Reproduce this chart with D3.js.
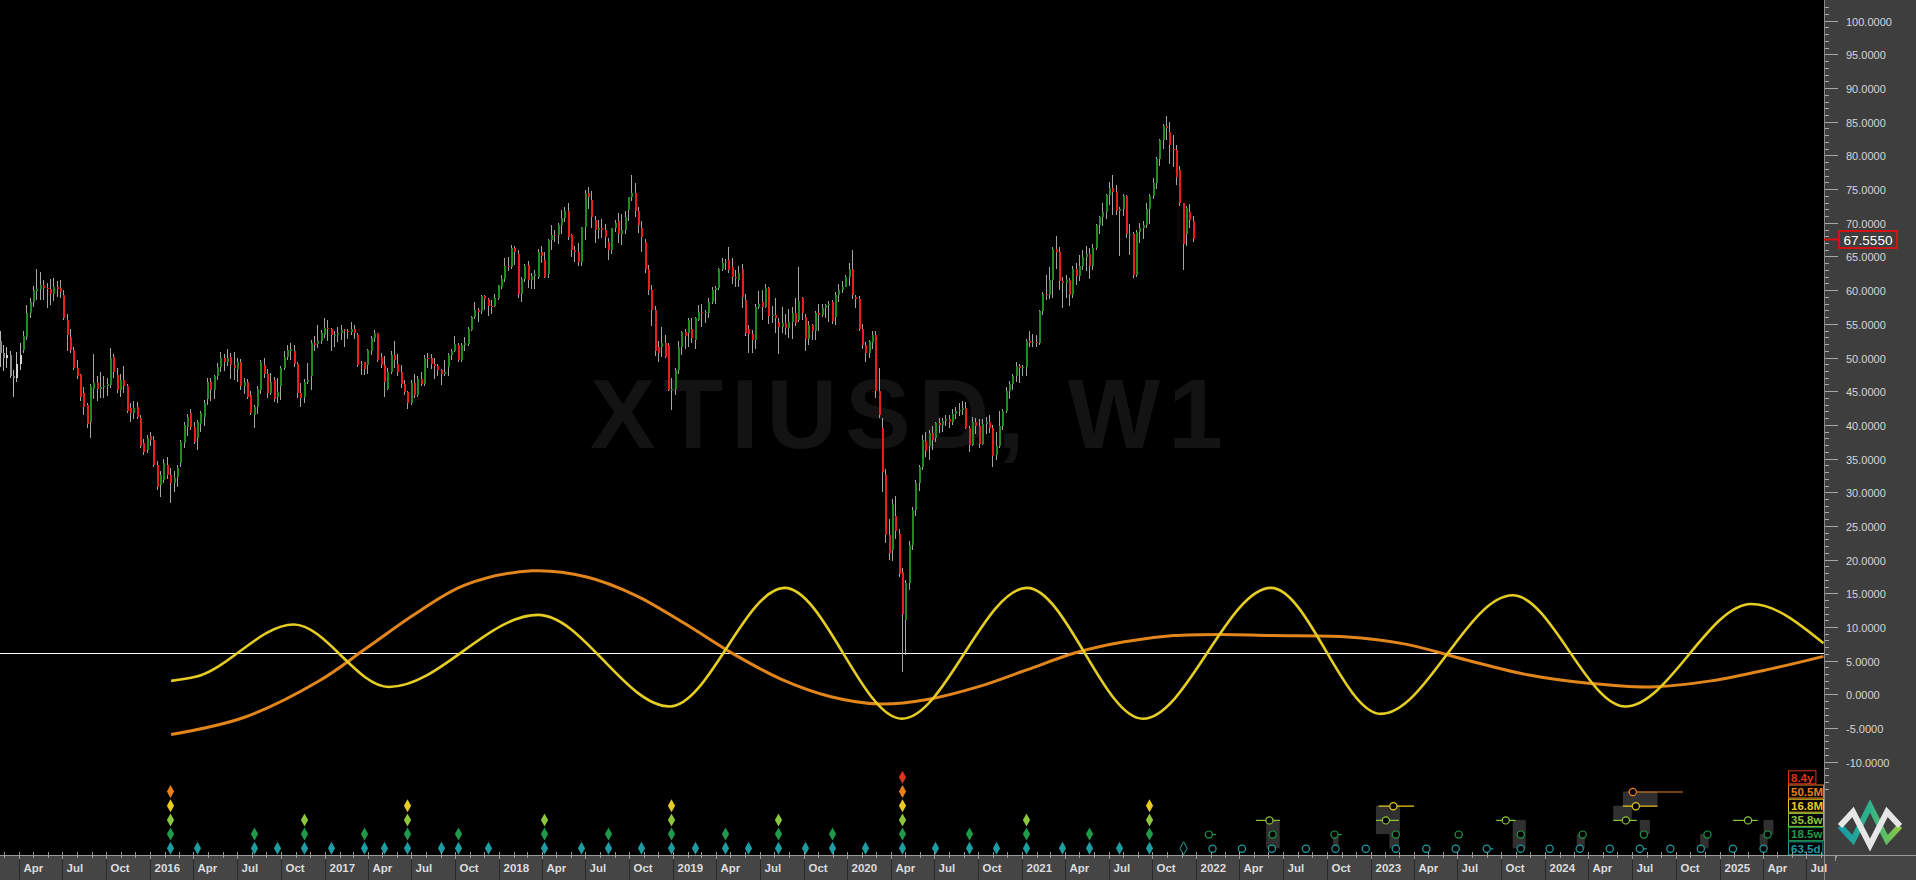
<!DOCTYPE html>
<html><head><meta charset="utf-8">
<script src="https://cdn.jsdelivr.net/npm/d3@7"></script>
<style>
html,body{margin:0;padding:0;background:#000;overflow:hidden}
svg{display:block}
</style></head><body>
<svg id="chart" width="1916" height="880"></svg>
<script>
// ---------------- DATA ----------------
const symbolTitle = "XTIUSD, W1";
const lastPrice = 67.555;
const refLevel = 6.08;
const greyBarCount = 7;

// weekly bars [open, high, low, close]; each block starts at the given Sunday
const start2015 = "2015-02-15";
const bars2015 = [
[52.5,53.9,48.6,50.6],[50.6,51.9,48.0,49.9],[49.9,51.6,48.5,50.4],[50.4,51.0,46.9,47.2],[47.2,48.2,44.2,46.9],
[46.9,50.8,46.3,49.1],[49.1,52.1,48.1,50.3],[51.1,53.9,50.6,53.2],[53.0,57.8,52.6,56.6],[56.6,58.8,55.8,58.3],
[58.3,60.6,57.5,60.0],[60.0,63.2,58.6,60.1],[60.1,62.7,58.5,60.7],[60.7,61.5,58.5,60.3],[60.3,61.1,57.3,60.1],
[60.1,61.6,57.8,59.4],[59.4,61.8,58.4,60.5],[60.5,61.4,59.0,60.2],[60.3,61.5,58.9,59.8],[59.3,60.0,55.5,55.8],
[55.6,56.4,51.0,53.3],[53.1,54.2,50.7,51.1],[51.1,51.6,48.2,48.4],[48.4,49.6,46.8,47.2],[47.4,47.6,43.6,44.2],
[44.7,45.6,41.5,42.7],[43.0,43.3,39.6,40.2],[40.5,46.0,38.0,45.7],[45.4,50.5,43.8,46.2],[46.2,47.2,43.5,45.3],
[45.3,47.9,44.0,45.6],[45.6,47.2,44.0,45.8],[45.7,47.0,44.3,46.1],[45.9,51.4,45.5,49.9],[50.1,50.5,47.0,47.9],
[47.4,48.5,44.8,45.2],[45.2,47.6,44.2,46.7],[46.7,48.8,44.8,45.7],[45.7,46.0,41.8,42.0],[42.5,43.2,40.5,41.7],
[41.7,43.5,40.9,42.5],[42.7,43.4,40.8,41.2],[41.0,41.5,36.5,36.8],[37.3,37.9,35.6,36.0],[36.3,38.5,35.9,38.0],
[38.3,38.9,36.8,37.8]
];
const start2016 = "2016-01-03";
const bars2016 = [
[37.8,38.3,33.8,34.1],[34.1,34.6,30.3,30.8],[31.1,33.2,29.3,32.6],[31.8,34.9,31.3,34.3],[34.0,35.3,31.9,32.6],
[32.6,33.6,28.4,31.3],[31.3,33.2,30.0,32.1],[32.3,34.0,30.8,33.6],[34.3,37.8,33.8,37.5],[37.3,40.4,36.5,40.0],
[39.7,41.6,38.4,41.2],[41.7,42.4,39.2,39.7],[39.7,40.4,37.1,37.5],[38.0,40.7,36.3,40.5],[40.2,42.0,39.0,41.7],
[41.2,43.7,39.8,43.3],[43.8,47.0,43.0,46.3],[46.3,47.0,43.6,45.2],[45.2,47.4,43.9,47.2],[47.2,49.2,46.6,48.6],
[48.6,50.8,47.9,49.9],[49.9,50.5,48.0,49.4],[49.4,51.3,48.8,49.9],[50.1,50.6,46.8,48.9],[48.9,50.8,46.6,48.4],
[48.3,50.0,46.3,49.4],[49.4,49.8,45.2,45.7],[45.7,46.9,44.6,46.4],[46.4,46.8,43.9,44.2],[44.5,45.0,41.4,41.7],
[41.5,42.9,39.6,42.7],[42.7,45.8,41.6,45.4],[45.2,49.7,44.6,49.4],[48.9,49.9,47.0,47.6],[47.6,48.3,44.0,44.7],
[44.7,47.7,44.4,46.4],[46.7,47.1,43.4,43.9],[44.2,46.9,43.2,44.9],[45.7,48.8,43.7,48.4],[48.4,50.9,48.2,50.1],
[50.1,51.9,49.6,51.1],[51.1,52.1,49.6,51.2],[50.9,51.8,48.6,49.1],[49.1,49.3,44.0,44.7],[44.7,46.2,42.7,44.0],
[44.2,46.8,43.3,46.4],[46.4,49.2,46.0,46.6],[47.2,52.6,45.2,52.1],[52.1,53.2,50.9,52.0],[52.0,54.8,51.4,52.5],
[52.5,54.1,52.0,53.6],[53.3,55.8,52.9,54.4]
];
const start2017 = "2017-01-01";
const bars2017 = [
[54.4,55.6,52.4,54.2],[54.2,54.4,51.0,53.3],[53.3,53.9,51.5,53.4],[53.4,54.6,52.3,53.6],[53.6,54.8,52.6,54.1],
[54.1,54.3,51.5,53.9],[53.9,54.3,52.8,53.8],[53.8,55.3,53.3,54.3],[54.3,54.9,52.8,53.6],[53.3,53.7,48.6,48.9],
[48.9,49.5,47.4,49.1],[49.3,49.4,47.4,48.3],[48.9,51.2,47.5,51.1],[51.0,53.2,50.3,52.9],[52.9,54.1,52.3,53.6],
[53.6,53.7,49.4,49.6],[50.1,50.6,48.5,48.9],[48.9,50.2,44.2,46.4],[45.4,48.5,45.2,47.9],[47.9,51.0,47.6,50.4],
[50.4,52.4,48.4,49.6],[49.1,50.5,47.2,47.9],[47.9,48.9,45.5,46.0],[46.0,46.7,44.5,44.9],[44.9,45.1,42.4,43.2],
[43.2,46.6,43.0,46.2],[46.2,47.6,44.0,44.4],[44.4,47.2,44.1,46.8],[46.8,47.8,45.7,46.1],[46.1,50.3,45.7,50.0],
[50.0,50.7,48.4,49.9],[49.9,50.5,48.3,49.1],[49.1,49.9,46.8,48.8],[48.8,49.1,47.3,48.2],[48.2,48.3,45.9,47.6],
[47.6,49.7,47.3,47.8],[48.6,50.7,47.3,50.4],[50.4,51.3,49.7,51.0],[51.0,53.2,50.8,52.0],[51.8,52.1,49.4,49.6],
[49.6,52.1,49.4,51.8],[51.8,53.1,51.0,52.1],[52.0,54.5,51.7,54.3],[54.1,56.1,53.9,56.0],[56.0,58.2,55.7,57.0],
[57.0,57.3,55.2,56.9],[56.9,59.3,56.4,59.2],[59.2,59.3,57.0,58.7],[58.7,58.8,56.1,57.7],[57.7,58.5,56.4,57.6],
[57.6,59.4,57.5,58.8],[58.8,60.8,58.6,60.7]
];
const start2018 = "2017-12-31";
const bars2018 = [
[60.5,62.2,60.1,61.7],[61.7,64.8,61.2,63.6],[63.6,64.9,62.8,63.4],[63.4,66.7,63.1,66.3],[66.3,66.6,63.8,65.6],
[65.4,66.0,58.9,59.4],[59.4,61.9,58.2,61.6],[61.6,63.9,61.2,63.6],[63.7,64.3,60.3,61.5],[61.5,62.6,60.2,62.1],
[62.1,63.0,60.1,62.4],[62.0,66.1,61.7,65.7],[65.7,66.6,64.0,65.0],[64.5,65.7,61.8,62.0],[62.4,67.6,61.8,67.4],
[67.4,69.6,66.0,68.2],[68.2,69.0,67.2,68.0],[68.2,70.0,66.9,69.7],[69.7,71.9,68.4,70.7],[70.7,72.3,70.1,71.7],
[71.7,72.9,67.5,67.9],[68.2,68.4,64.9,66.0],[66.0,66.5,64.2,65.7],[65.7,67.0,63.6,64.2],[64.2,69.3,63.6,69.4],
[69.4,74.8,67.5,74.4],[74.4,75.3,72.0,73.9],[73.4,74.7,69.2,70.9],[70.4,71.0,67.0,68.9],[68.9,70.4,67.6,69.2],
[69.2,70.5,67.8,68.9],[68.9,69.8,66.2,67.9],[67.2,67.8,64.5,66.0],[66.0,69.2,65.4,69.2],[69.2,70.4,68.6,70.0],
[70.3,71.4,67.0,68.3],[68.3,71.3,66.7,69.0],[68.9,71.7,68.3,70.9],[71.9,73.9,70.3,73.9],[73.9,77.1,73.3,74.4],
[74.4,75.9,70.8,71.7],[71.7,72.4,68.5,69.7],[69.2,70.2,65.7,67.9],[67.2,67.6,62.6,63.2],[63.2,63.7,59.3,60.0],
[60.0,60.7,54.7,57.1],[57.1,57.6,50.2,50.9],[51.6,52.4,49.4,50.6],[51.6,54.5,50.1,52.1],[52.1,53.3,49.9,50.1],
[51.9,52.2,45.0,45.2],[45.4,47.0,42.2,45.4]
];
const start2019 = "2018-12-30";
const bars2019 = [
[45.4,48.5,44.4,48.2],[48.2,52.5,47.6,51.6],[51.6,54.0,50.4,53.8],[53.8,54.3,51.3,53.2],[53.6,55.8,51.6,55.6],
[54.3,55.8,52.1,52.9],[52.6,56.0,51.2,55.8],[55.6,57.8,55.4,56.8],[56.8,57.9,54.6,56.6],[56.6,57.0,55.1,56.8],
[56.6,58.9,55.9,58.3],[58.3,60.4,58.0,60.0],[60.0,60.6,58.0,60.3],[60.3,63.3,60.0,63.2],[63.2,64.8,62.9,64.0],
[64.0,64.6,63.0,64.2],[64.5,66.4,62.6,63.0],[63.5,64.8,60.9,62.0],[62.0,63.0,60.5,61.8],[61.5,63.6,60.4,62.5],
[63.2,63.9,57.3,59.0],[58.5,59.5,53.2,53.6],[54.3,54.8,50.6,53.5],[53.5,54.1,50.7,52.6],[52.6,58.0,51.3,57.5],
[57.5,59.9,57.2,58.0],[58.2,60.0,55.6,57.5],[57.5,60.9,57.3,60.3],[60.3,60.5,55.0,56.1],[56.1,57.6,55.1,56.3],
[56.3,58.8,53.6,55.8],[55.2,55.8,50.5,54.5],[54.5,57.5,53.6,55.1],[55.1,56.5,53.4,54.4],[54.4,57.2,52.9,55.3],
[55.3,57.5,52.8,56.6],[56.6,58.8,54.7,55.1],[55.6,63.5,55.2,58.4],[58.8,59.0,55.6,56.6],[56.0,56.4,50.9,52.8],
[52.8,55.4,51.9,54.8],[54.8,55.0,52.6,53.9],[53.9,56.9,52.6,56.6],[56.6,57.9,54.0,56.3],[56.3,57.9,56.0,57.3],
[57.3,57.9,55.9,57.8],[57.8,58.4,55.3,58.0],[58.3,58.6,55.0,55.4],[56.0,59.8,54.9,59.3],[59.3,60.9,58.2,60.0],
[60.0,61.4,59.6,60.5],[60.5,62.3,60.4,62.0]
];
const start2020 = "2019-12-29";
const bars2020 = [
[62.0,64.1,60.6,63.2],[63.2,65.9,58.7,59.3],[59.0,59.3,57.4,58.7],[58.7,59.1,53.9,54.3],[54.3,55.0,51.3,51.9],
[51.9,52.3,49.4,50.6],[50.6,52.6,49.9,52.4],[52.1,54.0,51.3,53.3],[53.3,54.0,44.0,45.0],[45.0,48.5,41.0,41.5],
[39.5,41.0,30.0,33.0],[32.5,33.5,22.5,23.6],[23.6,26.0,20.0,21.0],[21.5,29.0,19.8,28.2],[26.5,29.5,23.0,24.3],
[23.8,24.6,17.4,17.9],[18.2,18.8,3.35,12.0],[11.0,17.0,5.8,16.5],[16.5,22.8,15.5,22.2],[22.2,27.8,21.5,27.4],
[27.4,31.8,26.5,31.3],[31.3,34.0,30.2,33.8],[33.8,38.5,33.3,37.8],[37.6,39.0,35.3,36.1],[36.8,39.3,34.8,38.8],
[38.8,39.8,36.2,37.8],[38.0,40.5,37.4,40.3],[40.3,41.0,38.8,40.0],[40.0,41.0,39.0,40.6],[40.6,41.5,39.8,40.8],
[40.8,41.5,39.5,40.4],[40.4,42.4,40.0,41.6],[41.6,42.6,40.8,42.0],[42.0,43.3,41.3,42.2],[42.2,43.6,41.5,42.5],
[42.5,43.4,39.4,39.5],[39.5,39.8,36.0,37.0],[37.0,41.2,36.8,40.5],[40.5,41.0,38.6,39.9],[39.9,40.8,36.5,37.2],
[37.2,40.8,37.0,40.2],[40.2,41.2,38.7,40.5],[40.5,41.5,38.8,39.5],[39.5,40.0,33.8,35.4],[35.6,39.0,34.8,36.8],
[36.8,42.0,36.6,39.8],[39.8,42.4,39.2,42.0],[42.0,45.6,41.8,45.0],[45.0,46.5,43.8,46.1],[46.1,47.5,45.2,47.3],
[47.3,49.3,46.4,48.8],[48.8,49.0,46.2,48.5]
];
const start2021 = "2020-12-27";
const bars2021 = [
[48.5,48.9,47.3,48.6],[48.6,52.8,47.2,52.4],[52.4,53.9,51.5,52.3],[52.3,53.5,51.5,52.3],[52.3,53.4,51.5,52.2],
[52.2,57.0,51.9,56.9],[56.9,59.8,56.3,59.5],[59.5,62.3,58.6,59.3],[59.3,63.5,58.7,61.5],[61.5,66.4,58.9,66.1],
[66.1,68.0,63.2,65.6],[65.6,66.4,60.0,61.4],[61.4,61.9,57.3,61.0],[61.0,62.3,58.9,61.5],[61.5,61.8,57.6,59.3],
[59.3,63.6,58.8,63.1],[63.1,64.0,60.7,62.1],[62.1,65.2,61.4,63.6],[63.6,66.0,63.0,64.9],[64.9,66.5,62.8,65.4],
[65.4,66.3,61.6,63.6],[63.6,66.9,63.0,66.3],[66.3,69.8,66.0,69.6],[69.6,71.0,68.4,70.9],[70.9,72.9,69.5,71.6],
[71.6,74.2,70.5,74.1],[74.1,76.0,72.7,75.2],[75.2,77.1,71.2,74.6],[74.6,75.6,71.2,71.8],[71.8,72.3,65.0,72.1],
[72.1,74.3,71.0,74.0],[74.0,74.1,67.8,68.3],[68.3,69.8,65.2,68.4],[68.4,68.6,61.8,62.3],[62.3,69.0,62.0,68.7],
[68.7,70.0,67.0,69.3],[69.3,70.3,67.6,69.7],[69.7,73.0,69.3,72.0],[72.0,74.2,69.8,74.0],[74.0,76.7,73.5,75.9],
[75.9,79.8,75.0,79.4],[79.4,82.5,78.5,82.3],[82.3,84.6,81.0,84.3],[84.3,85.9,82.3,84.0],[83.5,85.0,78.8,81.5],
[81.0,83.0,78.3,80.8],[80.8,81.6,75.6,76.8],[77.8,78.5,72.5,72.9],[72.9,72.9,63.0,66.9],[68.4,72.5,66.5,72.2],
[71.6,72.8,69.2,70.4],[70.3,71.0,67.2,67.555]
];

// cycle overlay lines [decimal year, value]
// 16.8M composite: turning points
const cycle16M = [
[2016.121,2.0],[2016.261,2.6],[2016.822,10.36],[2017.369,1.10],[2018.224,11.8],[2018.980,-1.80],[2019.639,15.8],
[2020.312,-3.62],[2021.027,15.8],[2021.693,-3.62],[2022.428,15.8],[2023.059,-2.9],[2023.815,14.7],
[2024.461,-1.80],[2025.182,13.4],[2025.596,7.6]
];
const cycle50M = [
[2016.121,-5.97],[2016.541,-3.4],[2016.962,1.9],[2017.242,6.9],[2017.523,12.0],[2017.803,16.2],
[2018.189,18.33],[2018.504,17.43],[2018.784,14.7],[2019.064,10.54],[2019.345,6.0],[2019.625,2.18],
[2019.905,-0.36],[2020.186,-1.44],[2020.466,-0.72],[2020.746,1.10],[2021.027,3.64],[2021.307,6.18],
[2021.587,7.8],[2021.868,8.72],[2022.148,8.9],[2022.428,8.72],[2022.849,8.54],[2023.200,7.45],
[2023.550,5.09],[2023.900,2.91],[2024.250,1.65],[2024.601,1.10],[2024.951,2.0],[2025.301,3.82],[2025.596,5.64]
];

// cycle names / colours (bottom row first)
const cycleNames = ["63.5d","18.5w","35.8w","16.8M","50.5M","8.4y"];
const cycleColors = ["#1e9ca4","#1f9a4a","#8dc53d","#e7cb22","#e8811c","#e0321e"];

// trough markers (week dates)
const troughs63d = ["2016-02-07","2016-04-03","2016-07-31","2016-09-18","2016-11-13","2017-01-08","2017-03-19",
"2017-04-30","2017-06-18","2017-08-27","2017-10-01","2017-12-03","2018-04-01","2018-06-17","2018-08-12",
"2018-10-21","2018-12-23","2019-02-10","2019-04-14","2019-06-02","2019-08-04","2019-09-29","2019-11-24",
"2020-02-02","2020-04-19","2020-06-28","2020-09-06","2020-11-01","2021-01-03","2021-03-21","2021-05-16",
"2021-07-18","2021-09-19"];
const troughs18w = ["2016-02-07","2016-07-31","2016-11-13","2017-03-19","2017-06-18","2017-10-01","2018-04-01",
"2018-08-12","2018-12-23","2019-04-14","2019-08-04","2019-11-24","2020-04-19","2020-09-06","2021-01-03",
"2021-05-16","2021-09-19"];
const troughs35w = ["2016-02-07","2016-11-13","2017-06-18","2018-04-01","2018-12-23","2019-08-04","2020-04-19",
"2021-01-03","2021-09-19"];
const troughs16M = ["2016-02-07","2017-06-18","2018-12-23","2020-04-19","2021-09-19"];
const troughs50M = ["2016-02-07","2020-04-19"];
const troughs8y = ["2020-04-19"];
const pendingTroughs63d = ["2021-11-28"];

// projected troughs (decimal years)
const proj63d = [2022.078,2022.247,2022.419,2022.614,2022.784,2022.958,2023.130,2023.305,2023.474,2023.652,
2023.847,2024.013,2024.185,2024.357,2024.529,2024.704,2024.878,2025.062,2025.238];
const proj18w = [2022.057,2022.423,2022.778,2023.130,2023.491,2023.847,2024.202,2024.552,2024.916,2025.261];
const proj35w = [2022.405,2023.073,2023.761,2024.449,2025.149];
const proj16M = [2023.116,2024.506];
const proj50M = [2024.489];
const range63d = [[2023.652,2023.690],[2024.529,2024.570]];
const range18w = [[2022.057,2022.097],[2022.778,2022.820]];
const range35w = [[2022.327,2022.465],[2023.016,2023.148],[2023.706,2023.818],[2024.377,2024.512],[2025.062,2025.205]];
const range16M = [[2023.031,2023.234],[2024.432,2024.630]];
const range50M = [[2024.461,2024.776]];
// shaded projection zones [from, to, lowRow, highRow]
const zones = [[2022.386,2022.464,0,2],[2023.016,2023.154,1,3],[2023.093,2023.149,0,2],[2023.801,2023.876,0,2],
[2024.432,2024.630,3,4],[2024.377,2024.483,2,3],[2024.529,2024.587,1,2],[2025.238,2025.295,1,2],
[2025.216,2025.261,0,1],[2024.874,2024.923,0,1],[2024.168,2024.214,0,1],[2022.770,2022.802,0,1]];

// ---------------- DRAW ----------------
const W=1916, H=880, plotR=1824, axisY=855;
const svg=d3.select('#chart');
const font='"Liberation Sans", Arial, sans-serif';
const DAY=864e5;
const parse=s=>new Date(s+"T00:00:00Z");
const fromDecYear=d=>{const yr=Math.floor(d);const s=Date.UTC(yr,0,1),e=Date.UTC(yr+1,0,1);return new Date(s+(d-yr)*(e-s));};

const x=d3.scaleUtc().domain([new Date(Date.UTC(2016,0,1)),new Date(Date.UTC(2025,0,1))]).range([150,1719.6]);
const y=d3.scaleLinear().domain([-10,100]).range([761.7,20.7]);
const barShift=2.5;
const bx=d=>Math.round(x(d)+barShift);

svg.append('rect').attr('width',W).attr('height',H).attr('fill','#000');

const defs=svg.append('defs');
defs.append('clipPath').attr('id','plotclip').append('rect').attr('x',0).attr('y',0).attr('width',plotR).attr('height',axisY);

const plot=svg.append('g').attr('clip-path','url(#plotclip)');

// watermark
plot.append('text').attr('x',590).attr('y',448).text(symbolTitle)
  .attr('font-family',font).attr('font-weight','bold').attr('font-size',98).attr('letter-spacing',8)
  .attr('fill','#131313');

// bars
const blocks=[[start2015,bars2015],[start2016,bars2016],[start2017,bars2017],[start2018,bars2018],
              [start2019,bars2019],[start2020,bars2020],[start2021,bars2021]];
const bars=[];
blocks.forEach(([s,arr])=>{const t0=parse(s).getTime();arr.forEach((b,k)=>bars.push({date:new Date(t0+k*7*DAY),o:b[0],h:b[1],l:b[2],c:b[3]}));});

// reference line
plot.append('line').attr('x1',0).attr('x2',plotR).attr('y1',Math.round(y(refLevel))+0.5).attr('y2',Math.round(y(refLevel))+0.5)
  .attr('stroke','#ffffff').attr('stroke-width',1);

// cycle curves
const line50=d3.line().x(d=>x(fromDecYear(d[0]))).y(d=>y(d[1])).curve(d3.curveCatmullRom.alpha(0.5));
const line16=d3.line().x(d=>x(fromDecYear(d[0]))).y(d=>y(d[1])).curve(d3.curveMonotoneX);
plot.append('path').attr('d',line50(cycle50M)).attr('fill','none').attr('stroke','#e2851a').attr('stroke-width',3);
plot.append('path').attr('d',line16(cycle16M)).attr('fill','none').attr('stroke','#e6cd22').attr('stroke-width',2.6);

const cg=plot.append('g').attr('shape-rendering','crispEdges');
bars.forEach((b,i)=>{
  const cx=bx(b.date);
  const grey=i<greyBarCount;
  const up=b.c>=b.o;
  cg.append('line').attr('x1',cx+0.5).attr('x2',cx+0.5).attr('y1',y(b.h)).attr('y2',y(b.l))
    .attr('stroke',grey?'#b8b8b8':'#a4a4a4').attr('stroke-width',1);
  const top=y(Math.max(b.o,b.c)), bot=y(Math.min(b.o,b.c));
  cg.append('rect').attr('x',cx-0.5).attr('width',2).attr('y',top).attr('height',Math.max(1.2,bot-top))
    .attr('fill',grey?(up?'#d6d6d6':'#8c8c8c'):(up?'#1f8c1f':'#ec1c1c'));
});

// marker rows
const rowY=r=>848.3-r*14.2;
const mk=plot.append('g');
const diamond=(cx,cy)=>`M${cx},${cy-6.5}L${cx+3.6},${cy}L${cx},${cy+6.5}L${cx-3.6},${cy}Z`;
[troughs63d,troughs18w,troughs35w,troughs16M,troughs50M,troughs8y].forEach((arr,r)=>{
  arr.forEach(s=>{mk.append('path').attr('d',diamond(bx(parse(s))+0.5,rowY(r))).attr('fill',cycleColors[r]);});
});
pendingTroughs63d.forEach(s=>{mk.append('path').attr('d',diamond(bx(parse(s))+0.5,rowY(0)))
  .attr('fill','none').attr('stroke',cycleColors[0]).attr('stroke-width',1);});

// projection zones
zones.forEach(z=>{
  const x0=x(fromDecYear(z[0]))+barShift, x1=x(fromDecYear(z[1]))+barShift;
  mk.append('rect').attr('x',x0).attr('width',x1-x0).attr('y',rowY(z[3])).attr('height',rowY(z[2])-rowY(z[3]))
    .attr('fill','#303030');
});
[range63d,range18w,range35w,range16M,range50M].forEach((arr,r)=>{
  arr.forEach(rg=>{mk.append('line').attr('x1',x(fromDecYear(rg[0]))+barShift).attr('x2',x(fromDecYear(rg[1]))+barShift)
    .attr('y1',rowY(r)+0.5).attr('y2',rowY(r)+0.5).attr('stroke',cycleColors[r]).attr('stroke-width',1.2);});
});
[proj63d,proj18w,proj35w,proj16M,proj50M].forEach((arr,r)=>{
  arr.forEach(t=>{mk.append('circle').attr('cx',x(fromDecYear(t))+barShift).attr('cy',rowY(r)+0.5).attr('r',3.6)
    .attr('fill','#000').attr('stroke',cycleColors[r]).attr('stroke-width',1.2);});
});

// legend boxes
const lg=plot.append('g');
cycleNames.forEach((n,r)=>{
  const cy=rowY(r);
  const t=lg.append('text').attr('x',1791).attr('y',cy+4.2).text(n).attr('font-family',font)
    .attr('font-weight','bold').attr('font-size',11.5).attr('fill',cycleColors[r]);
  const w=t.node().getComputedTextLength();
  lg.insert('rect','text').attr('x',1788.5).attr('y',cy-6.5).attr('width',Math.min(w+5,35)).attr('height',13)
    .attr('fill','#000').attr('stroke',cycleColors[r]).attr('stroke-width',1);
});

// bottom axis
const ax=svg.append('g');
ax.append('rect').attr('x',0).attr('y',axisY).attr('width',W).attr('height',H-axisY).attr('fill','#454545');
const months=d3.utcMonth.range(new Date(Date.UTC(2015,1,1)),new Date(Date.UTC(2025,9,1)));
const fmtM=d3.utcFormat('%b');
months.forEach(m=>{
  const xm=Math.round(x(m))+0.5;
  if(m.getUTCMonth()%3===0){
    ax.append('line').attr('x1',xm).attr('x2',xm).attr('y1',axisY).attr('y2',H).attr('stroke','#2a2a2a');
    ax.append('line').attr('x1',xm).attr('x2',xm).attr('y1',axisY-3).attr('y2',axisY+4).attr('stroke','#9a9a9a');
    ax.append('text').attr('x',xm+4).attr('y',872).text(m.getUTCMonth()===0?m.getUTCFullYear():fmtM(m))
      .attr('font-family',font).attr('font-weight','bold').attr('font-size',11.5).attr('fill','#dcdcdc');
  } else {
    ax.append('line').attr('x1',xm).attr('x2',xm).attr('y1',axisY-3).attr('y2',axisY+3).attr('stroke','#9a9a9a');
  }
});
ax.append('line').attr('x1',0).attr('x2',W).attr('y1',axisY+0.5).attr('y2',axisY+0.5).attr('stroke','#9c9c9c');

// right price axis
const ra=svg.append('g');
ra.append('rect').attr('x',plotR).attr('y',0).attr('width',W-plotR).attr('height',axisY).attr('fill','#3e3e3e');
ra.append('line').attr('x1',plotR+0.5).attr('x2',plotR+0.5).attr('y1',0).attr('y2',H).attr('stroke','#8a8a8a');
ra.append('line').attr('x1',plotR).attr('x2',W).attr('y1',axisY+0.5).attr('y2',axisY+0.5).attr('stroke','#9c9c9c');
ra.append('line').attr('x1',1835.5).attr('x2',1835.5).attr('y1',axisY).attr('y2',axisY+6).attr('stroke','#9c9c9c');
d3.range(-14,103).forEach(v=>{
  const yy=Math.round(y(v))+0.5;
  const major=v%5===0;
  ra.append('line').attr('x1',plotR+1).attr('x2',plotR+(major?14:5)).attr('y1',yy).attr('y2',yy).attr('stroke','#a8a8a8');
  if(major&&v>=-10&&v<=100){
    ra.append('text').attr('x',1846).attr('y',yy+4).text(v.toFixed(4)).attr('font-family',font)
      .attr('font-size',11).attr('fill','#d6d6d6');
  }
});
// current price tag
const py=Math.round(y(lastPrice))+0.5;
ra.append('line').attr('x1',plotR).attr('x2',1839).attr('y1',py).attr('y2',py).attr('stroke','#d41414').attr('stroke-width',2);
ra.append('rect').attr('x',1839).attr('y',py-8.5).attr('width',58).attr('height',17).attr('fill','#3e3e3e')
  .attr('stroke','#d41414').attr('stroke-width',2);
ra.append('text').attr('x',1868).attr('y',py+5).attr('text-anchor','middle').text(lastPrice.toFixed(4))
  .attr('font-family',font).attr('font-size',13.5).attr('fill','#ffffff');

// logo
const grad=defs.append('linearGradient').attr('id','lg1').attr('x1','0').attr('x2','1').attr('y1','0').attr('y2','0');
grad.append('stop').attr('offset','0').attr('stop-color','#159aa8');
grad.append('stop').attr('offset','0.5').attr('stop-color','#2fb38a');
grad.append('stop').attr('offset','1').attr('stop-color','#8cc63f');
ra.append('path').attr('d','M1840,826 L1853,840 L1870,806 L1887,840 L1900,826').attr('fill','none')
  .attr('stroke','url(#lg1)').attr('stroke-width',6).attr('stroke-linejoin','miter');
ra.append('path').attr('d','M1840,826 L1853,812 L1870,845 L1887,812 L1900,826').attr('fill','none')
  .attr('stroke','#e6e6e6').attr('stroke-width',6).attr('stroke-linejoin','miter');
</script></body></html>
